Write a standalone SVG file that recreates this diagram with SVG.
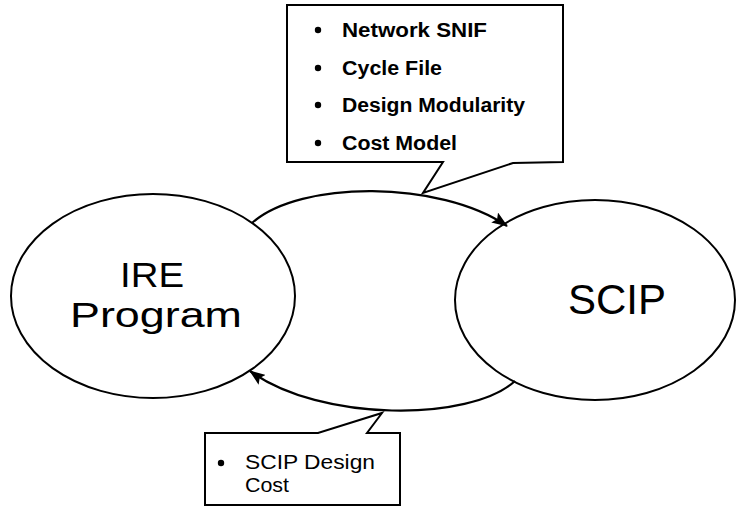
<svg xmlns="http://www.w3.org/2000/svg" width="736" height="508" viewBox="0 0 736 508">
  <style>
    .node { fill: #fff; stroke: #000; stroke-width: 2; }
    .call { fill: #fff; stroke: #000; stroke-width: 2; stroke-linejoin: miter; }
    .edge { fill: none; stroke: #000; stroke-width: 2.2; }
    .big { font-family: "Liberation Sans", Arial, sans-serif; fill: #000; text-anchor: middle; }
    .lbl { font-family: "Liberation Sans", Arial, sans-serif; fill: #000; }
    .bold { font-weight: bold; font-size: 20px; }
    .reg { font-size: 20px; }
  </style>
  <defs>
    <marker id="arrow" viewBox="0 0 16 12" refX="15" refY="6" markerWidth="16" markerHeight="12" markerUnits="userSpaceOnUse" orient="auto">
      <path d="M0,0 L16,6 L0,12 L3,6 Z" fill="#000"/>
    </marker>
  </defs>
  <rect width="736" height="508" fill="#fff"/>

  <g id="ire-program">
    <ellipse class="node" cx="153" cy="296" rx="142" ry="102"/>
    <text class="big" x="152" y="287" font-size="35" textLength="64" lengthAdjust="spacingAndGlyphs">IRE</text>
    <text class="big" x="156" y="327" font-size="35" textLength="172" lengthAdjust="spacingAndGlyphs">Program</text>
  </g>

  <g id="scip">
    <ellipse class="node" cx="595" cy="300" rx="140" ry="100"/>
    <text class="big" x="617" y="314" font-size="42">SCIP</text>
  </g>

  <g id="connectors">
    <path class="edge" d="M252,223 C300,180 440,180 507,226" marker-end="url(#arrow)"/>
    <path class="edge" d="M515,381 C470,422 320,422 250,371" marker-end="url(#arrow)"/>
  </g>

  <g id="inputs-callout">
    <path class="call" d="M287,5 L563,5 L563,162 L513,163 L423,193 L443,162 L287,162 Z"/>
    <g class="lbl bold">
      <circle cx="318" cy="30" r="3.2"/>
      <text x="342" y="37" textLength="145" lengthAdjust="spacingAndGlyphs">Network SNIF</text>
      <circle cx="318" cy="68" r="3.2"/>
      <text x="342" y="75" textLength="100" lengthAdjust="spacingAndGlyphs">Cycle File</text>
      <circle cx="318" cy="105" r="3.2"/>
      <text x="342" y="112" textLength="183" lengthAdjust="spacingAndGlyphs">Design Modularity</text>
      <circle cx="318" cy="143" r="3.2"/>
      <text x="342" y="150" textLength="115" lengthAdjust="spacingAndGlyphs">Cost Model</text>
    </g>
  </g>

  <g id="cost-callout">
    <path class="call" d="M205,433 L318,433 L382,413 L367,433 L400,433 L400,505 L205,505 Z"/>
    <g class="lbl reg">
      <circle cx="221" cy="463" r="3.2"/>
      <text x="245" y="469" textLength="130" lengthAdjust="spacingAndGlyphs">SCIP Design</text>
      <text x="245" y="492" textLength="44" lengthAdjust="spacingAndGlyphs">Cost</text>
    </g>
  </g>
</svg>
